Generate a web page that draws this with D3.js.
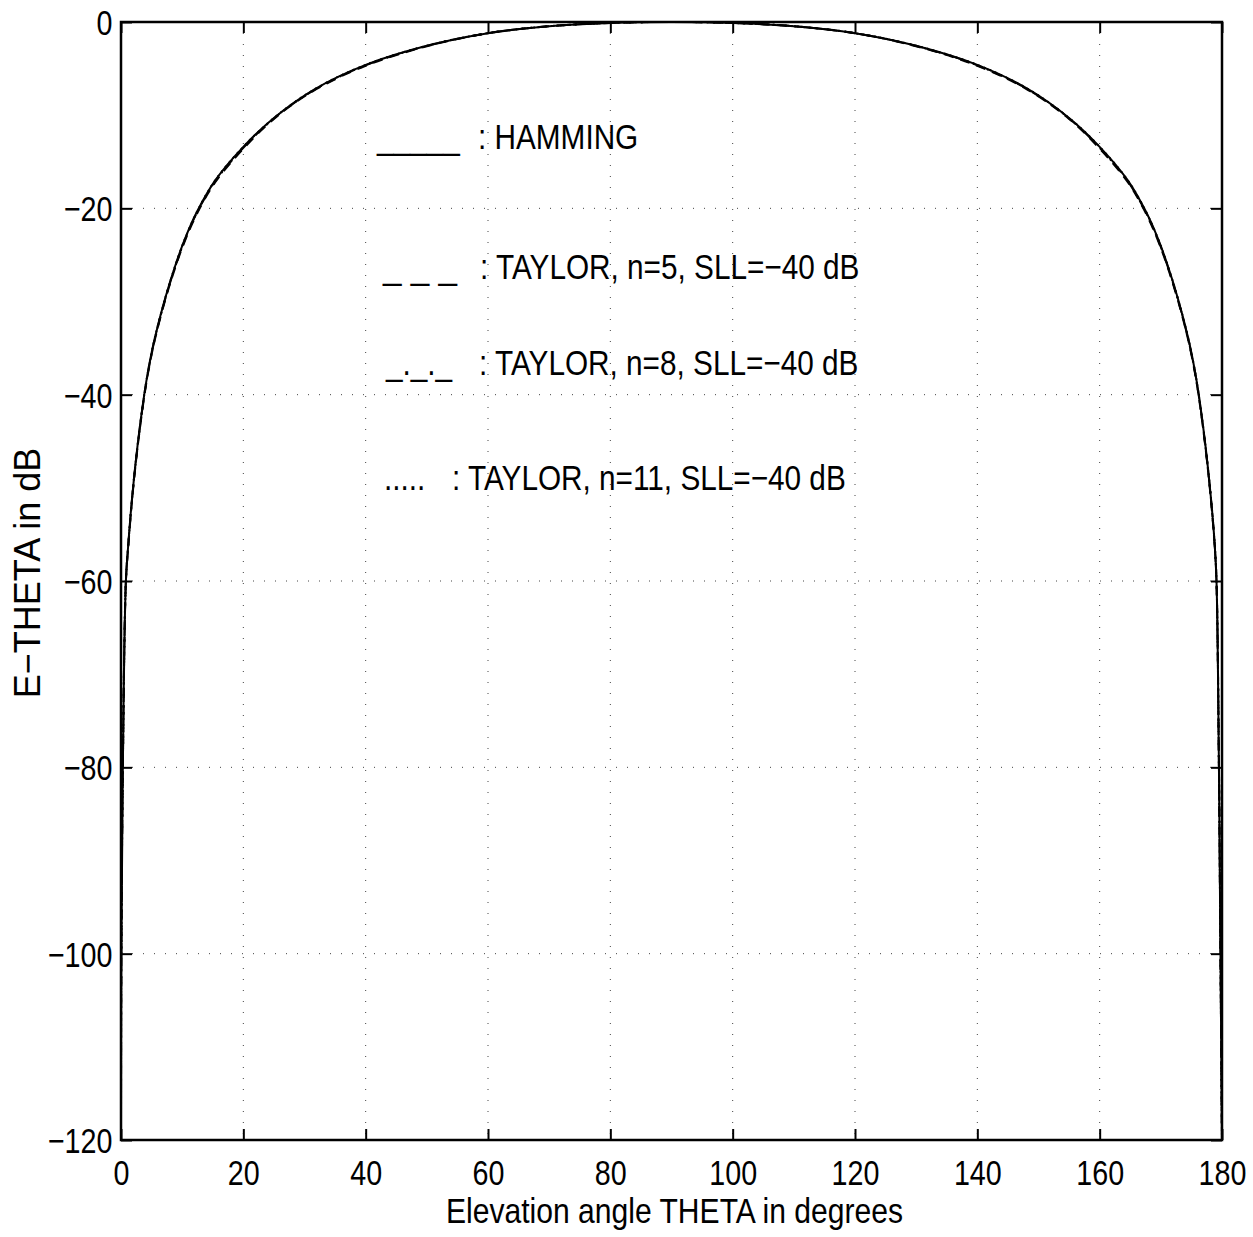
<!DOCTYPE html>
<html>
<head>
<meta charset="utf-8">
<script src="https://cdn.jsdelivr.net/npm/d3@7/dist/d3.min.js"></script>
<style>
  html, body { margin: 0; padding: 0; background: #fff; }
  svg { display: block; }
  text { font-family: "Liberation Sans", Arial, Helvetica, sans-serif; fill: #000; }
</style>
</head>
<body>
<svg id="chart" width="1253" height="1237"></svg>
<script>
// ---------------- data ----------------
const xTicks = [0, 20, 40, 60, 80, 100, 120, 140, 160, 180];
const yTicks = [-120, -100, -80, -60, -40, -20, 0];
const yTickLabels = ["\u2212120", "\u2212100", "\u221280", "\u221260", "\u221240", "\u221220", "0"];

const theta = [0, 0.05, 0.3, 0.8, 1.2, 1.85, 2.7, 3.8, 4.5, 5.5, 7.2, 9, 10.5, 12.4, 15.4, 20, 25, 31.7, 40, 50, 60, 70, 80, 90,
               100, 110, 120, 130, 140, 148.3, 155, 160, 164.6, 167.6, 169.5, 171, 172.8, 174.5, 175.5, 176.2, 177.3, 178.15, 178.8, 179.1, 179.5, 179.75, 180];

const hamming = [-120, -100, -80, -60, -56, -50.8, -45.5, -40, -37.2, -34.0, -29.7, -25.9, -23.2, -20.4, -17.0, -13.4, -10.3, -7.2, -4.6, -2.55, -1.2, -0.45, -0.1, 0,
                 -0.1, -0.45, -1.2, -2.55, -4.6, -7.2, -10.3, -13.4, -17.0, -20.4, -23.2, -25.9, -29.7, -34.0, -37.2, -40, -45.5, -50.8, -56, -60, -80, -100, -120];
const taylor5 = [-120, -100, -80, -60, -56.2, -51.0, -45.7, -40.2, -37.4, -34.2, -29.9, -26.1, -23.4, -20.6, -17.2, -13.6, -10.4, -7.3, -4.7, -2.6, -1.2, -0.45, -0.1, 0,
                 -0.1, -0.45, -1.2, -2.6, -4.7, -7.3, -10.4, -13.6, -17.2, -20.6, -23.4, -26.1, -29.9, -34.2, -37.4, -40.2, -45.7, -51.0, -56.2, -60, -80, -100, -120];
const taylor8 = [-120, -100, -80, -60, -56.1, -50.9, -45.6, -40.1, -37.3, -34.1, -29.8, -26.0, -23.3, -20.5, -17.1, -13.5, -10.35, -7.25, -4.65, -2.57, -1.2, -0.45, -0.1, 0,
                 -0.1, -0.45, -1.2, -2.57, -4.65, -7.25, -10.35, -13.5, -17.1, -20.5, -23.3, -26.0, -29.8, -34.1, -37.3, -40.1, -45.6, -50.9, -56.1, -60, -80, -100, -120];
const taylor11 = [-120, -100, -80, -60, -56, -50.8, -45.5, -40, -37.2, -34.0, -29.7, -25.9, -23.2, -20.4, -17.0, -13.4, -10.3, -7.2, -4.6, -2.55, -1.2, -0.45, -0.1, 0,
                  -0.1, -0.45, -1.2, -2.55, -4.6, -7.2, -10.3, -13.4, -17.0, -20.4, -23.2, -25.9, -29.7, -34.0, -37.2, -40, -45.5, -50.8, -56, -60, -80, -100, -120];

const seriesNames = ["HAMMING", "TAYLOR5", "TAYLOR8", "TAYLOR11"];
const legendMarks = ["_____", "_ _ _", "_._._", "....."];
const legendLabels = [": HAMMING", ": TAYLOR, n=5, SLL=\u221240 dB", ": TAYLOR, n=8, SLL=\u221240 dB", ": TAYLOR, n=11, SLL=\u221240 dB"];

// ---------------- layout ----------------
const L = 121, R = 1222, T = 22, B = 1140;
const SX = 0.82;       // horizontal compression of the reference font (ticks)
const SXL = 0.85;      // legend text compression
const FS = 35;

const svg = d3.select("#chart");
const x = d3.scaleLinear().domain([0, 180]).range([L, R]);
const y = d3.scaleLinear().domain([-120, 0]).range([B, T]);

svg.append("defs").append("clipPath").attr("id", "clip")
  .append("rect").attr("x", L).attr("y", T).attr("width", R - L).attr("height", B - T);

// grid
const grid = svg.append("g").attr("stroke", "#444").attr("stroke-width", 1).attr("stroke-dasharray", "1,10");
xTicks.filter(d => d > 0 && d < 180).forEach(d => {
  grid.append("line").attr("x1", x(d)).attr("x2", x(d)).attr("y1", T).attr("y2", B);
});
yTicks.filter(d => d > -120 && d < 0).forEach(d => {
  grid.append("line").attr("x1", L).attr("x2", R).attr("y1", y(d)).attr("y2", y(d));
});

// axes with inward ticks
function styleAxis(g) {
  g.select(".domain").remove();
  g.selectAll(".tick line").attr("stroke", "#000").attr("stroke-width", 2);
}
const gx = svg.append("g").attr("transform", `translate(0,${B})`)
  .call(d3.axisBottom(x).tickValues(xTicks).tickSize(-11).tickSizeOuter(0).tickFormat(d3.format("d")));
styleAxis(gx);
gx.selectAll(".tick text").attr("y", 45).attr("dy", 0)
  .attr("font-size", FS).attr("transform", `scale(${SX},1)`).attr("fill", "#000");

svg.append("g").attr("transform", `translate(0,${T})`)
  .call(d3.axisTop(x).tickValues(xTicks).tickSize(-11).tickSizeOuter(0).tickFormat(""))
  .call(styleAxis);

const gy = svg.append("g").attr("transform", `translate(${L},0)`)
  .call(d3.axisLeft(y).tickValues(yTicks).tickSize(-11).tickSizeOuter(0).tickFormat((d, i) => yTickLabels[i]));
styleAxis(gy);
gy.selectAll(".tick text").attr("x", -10.5).attr("y", 12.5).attr("dy", 0)
  .attr("font-size", FS).attr("transform", `scale(${SX},1)`).attr("fill", "#000");

svg.append("g").attr("transform", `translate(${R},0)`)
  .call(d3.axisRight(y).tickValues(yTicks).tickSize(-11).tickSizeOuter(0).tickFormat(""))
  .call(styleAxis);

// curves
const line = d3.line().x(d => x(d[0])).y(d => y(d[1])).curve(d3.curveCatmullRom.alpha(0.5));
const allSeries = [hamming, taylor5, taylor8, taylor11];
const dashes = [null, "10,7", "10,5,2,5", "2,4"];
const curves = svg.append("g").attr("clip-path", "url(#clip)");
allSeries.forEach((vals, i) => {
  curves.append("path")
    .datum(theta.map((t, k) => [t, vals[k]]))
    .attr("fill", "none").attr("stroke", "#000").attr("stroke-width", 2)
    .attr("stroke-dasharray", dashes[i])
    .attr("class", "series-" + seriesNames[i])
    .attr("d", line);
});

// border
svg.append("rect").attr("x", L).attr("y", T).attr("width", R - L).attr("height", B - T)
  .attr("fill", "none").attr("stroke", "#000").attr("stroke-width", 2.5);

// legend (text annotations)
const legPos = [
  { mx: 377, lx: 478, by: 149, ms: SXL },
  { mx: 383, lx: 480, by: 279, ms: 0.95 },
  { mx: 386, lx: 479, by: 375, ms: SXL },
  { mx: 384, lx: 452, by: 490, ms: SXL }
];
legPos.forEach((p, i) => {
  svg.append("text").attr("transform", `translate(${p.mx},${p.by}) scale(${p.ms},1)`)
    .attr("font-size", FS).style("white-space", "pre").text(legendMarks[i]);
  svg.append("text").attr("transform", `translate(${p.lx},${p.by}) scale(${SXL},1)`)
    .attr("font-size", FS).style("white-space", "pre").text(legendLabels[i]);
});

// axis titles
svg.append("text").attr("transform", `translate(${(L + R) / 2 + 3},1223) scale(0.86,1)`)
  .attr("text-anchor", "middle").attr("font-size", FS).text("Elevation angle THETA in degrees");
svg.append("text").attr("transform", `translate(40,${(T + B) / 2 - 8}) rotate(-90)`)
  .attr("text-anchor", "middle").attr("font-size", 36).text("E\u2212THETA in dB");
</script>
</body>
</html>
